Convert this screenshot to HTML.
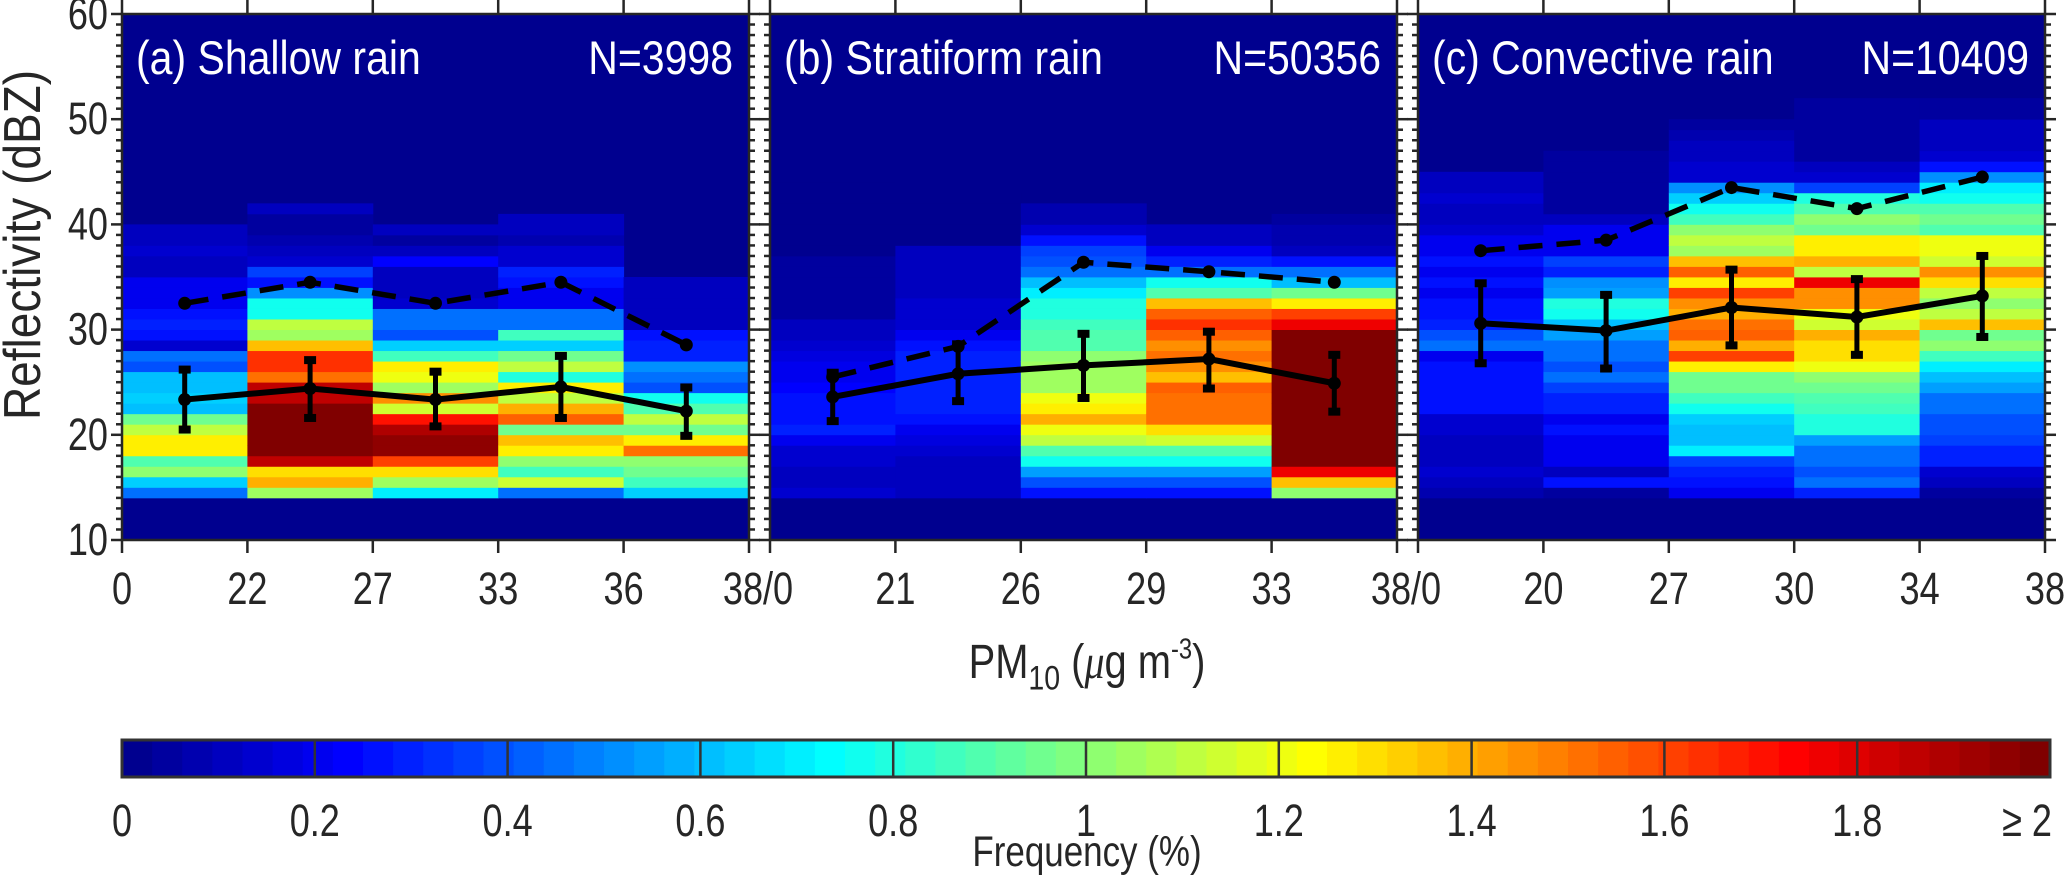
<!DOCTYPE html>
<html><head><meta charset="utf-8"><style>
html,body{margin:0;padding:0;background:#fff;}
svg{display:block;font-family:"Liberation Sans",Arial,sans-serif;}
</style></head><body>
<svg id="chart" width="2067" height="875" viewBox="0 0 2067 875" xmlns="http://www.w3.org/2000/svg">
<g id="cells"></g>
<g id="axes"></g>
<g id="series"></g>
<g id="labels"></g>
<text x="0" y="0" transform="translate(40,245) rotate(-90) scale(1,1.12)" text-anchor="middle" font-size="46" fill="#262626">Reflectivity (dBZ)</text>
<text x="0" y="0" transform="translate(1087,678) scale(0.95,1.15)" text-anchor="middle" font-size="42" fill="#262626">PM<tspan font-size="30" dy="10">10</tspan><tspan dy="-10"> (</tspan><tspan font-style="italic" font-family="Liberation Serif">μ</tspan>g m<tspan font-size="25" dy="-17">-3</tspan><tspan dy="17">)</tspan></text>
<text x="0" y="0" transform="translate(1087,866) scale(0.92,1.12)" text-anchor="middle" font-size="38" fill="#262626">Frequency (%)</text>
</svg>
<script>
// ---- data ----
const panelTitles = ["(a) Shallow rain", "(b) Stratiform rain", "(c) Convective rain"];
const panelCounts = ["N=3998", "N=50356", "N=10409"];
const xTickLabelsA = ["0", "22", "27", "33", "36"];
const xTickLabelsB = ["21", "26", "29", "33"];
const xTickLabelsC = ["20", "27", "30", "34", "38"];
const yTicks = [10, 20, 30, 40, 50, 60];
const cbTicks = ["0", "0.2", "0.4", "0.6", "0.8", "1", "1.2", "1.4", "1.6", "1.8", "≥ 2"];
const binStart = 14; // dBZ of first row in each column array
// frequency (%) per column, rows of 1 dBZ from 14 dBZ upward
const shallowFreq = [
 [0.45,0.65,1.0,0.9,1.25,1.25,1.1,0.95,0.6,0.65,0.6,0.6,0.4,0.45,0.15,0.25,0.3,0.25,0.2,0.2,0.2,0.12,0.12,0.15,0.1,0.1],
 [1.05,1.4,1.3,1.85,2,2,2,2,2,1.85,1.85,1.5,1.65,1.65,1.35,1.05,1.1,0.75,0.75,0.5,0.25,0.35,0.15,0.1,0.08,0.05,0.05,0.1],
 [0.7,1.05,1.3,1.6,1.95,1.95,1.9,1.7,1.15,1.45,1.05,1.2,1.25,0.85,0.65,0.4,0.45,0.45,0.15,0.1,0.1,0.1,0.22,0.1,0.05,0.1],
 [0.45,1.15,0.85,1.0,1.25,1.35,0.95,1.55,1.4,1.1,1.25,0.8,1.1,0.95,0.65,0.85,0.45,0.45,0.2,0.2,0.25,0.3,0.15,0.15,0.08,0.12,0.12],
 [0.65,0.85,0.95,1.0,1.5,1.25,0.95,1.1,0.9,0.75,0.4,0.45,0.5,0.3,0.3,0.25,0.1,0.1,0.12,0.12,0.12]
];
const stratFreq = [
 [0.15,0.1,0.12,0.15,0.15,0.2,0.3,0.28,0.25,0.25,0.22,0.2,0.2,0.18,0.15,0.12,0.1,0.05,0.05,0.05,0.05,0.05,0.05,0.03,0.03,0.03,0.03,0.03,0.03,0.03],
 [0.1,0.1,0.1,0.12,0.15,0.18,0.2,0.25,0.3,0.3,0.3,0.3,0.3,0.3,0.25,0.2,0.15,0.15,0.15,0.12,0.12,0.1,0.1,0.1,0.03,0.03,0.03,0.03,0.03],
 [0.25,0.4,0.55,0.75,0.9,1.1,1.2,1.4,1.25,1.2,1.05,1.05,1.05,1.0,0.9,0.9,0.85,0.8,0.8,0.7,0.6,0.45,0.4,0.35,0.25,0.15,0.08,0.08],
 [0.25,0.4,0.55,0.75,0.9,1.15,1.3,1.5,1.5,1.5,1.55,1.35,1.45,1.5,1.45,1.55,1.65,1.55,1.35,0.9,0.75,0.45,0.3,0.2,0.12,0.1],
 [1.0,1.35,1.75,2,2,2,2,2,2,2,2,2,2,2,2,2,1.75,1.6,1.25,0.95,0.6,0.45,0.25,0.1,0.08,0.08,0.05]
];
const convFreq = [
 [0.08,0.1,0.15,0.1,0.1,0.12,0.15,0.15,0.25,0.25,0.28,0.25,0.25,0.2,0.45,0.4,0.3,0.28,0.25,0.2,0.25,0.2,0.25,0.2,0.2,0.15,0.12,0.12,0.15,0.1,0.1],
 [0.05,0.25,0.1,0.2,0.2,0.2,0.25,0.2,0.3,0.3,0.35,0.45,0.4,0.45,0.45,0.55,0.6,0.75,0.8,0.55,0.5,0.3,0.35,0.2,0.2,0.2,0.1,0.05,0.05,0.05,0.05,0.05,0.05],
 [0.2,0.25,0.3,0.35,0.7,0.6,0.6,0.65,0.75,0.85,0.95,0.95,1.25,1.6,1.4,1.55,1.5,1.4,1.45,1.6,1.25,1.55,1.35,1.05,1.1,1.0,0.85,0.75,0.65,0.5,0.15,0.15,0.1,0.1,0.08,0.05],
 [0.3,0.45,0.4,0.45,0.45,0.55,0.8,0.8,0.85,0.9,0.95,1.0,1.2,1.3,1.3,1.4,1.15,1.2,1.45,1.45,1.75,1.1,1.4,1.25,1.25,0.95,1.0,0.9,0.8,0.35,0.15,0.1,0.05,0.05,0.05,0.05,0.05,0.05],
 [0.05,0.1,0.15,0.3,0.3,0.35,0.4,0.4,0.45,0.45,0.55,0.6,0.7,0.85,1.0,0.95,1.35,1.1,1.0,1.1,1.3,1.45,1.15,1.2,1.2,0.9,0.95,0.9,0.75,0.7,0.5,0.25,0.15,0.1,0.1,0.1,0.05,0.05]
];
const shallowMean = [23.35, 24.4, 23.35, 24.55, 22.25];
const shallowLo = [20.5, 21.6, 20.8, 21.6, 19.9];
const shallowHi = [26.2, 27.1, 26.0, 27.5, 24.5];
const shallowP90 = [32.5, 34.5, 32.5, 34.5, 28.55];
const stratMean = [23.6, 25.8, 26.6, 27.2, 24.9];
const stratLo = [21.3, 23.2, 23.5, 24.4, 22.2];
const stratHi = [25.9, 28.6, 29.6, 29.8, 27.6];
const stratP90 = [25.5, 28.4, 36.4, 35.5, 34.5];
const convMean = [30.6, 29.9, 32.1, 31.2, 33.2];
const convLo = [26.8, 26.3, 28.5, 27.6, 29.3];
const convHi = [34.4, 33.3, 35.7, 34.8, 37.0];
const convP90 = [37.5, 38.5, 43.5, 41.5, 44.5];

// ---- layout ----
const NS = "http://www.w3.org/2000/svg";
const panelX = [122, 770, 1418], panelW = 627, yTop = 14, yBottom = 540;
const yMin = 10, yMax = 60;
function yScale(d) { return yBottom - (d - yMin) * (yBottom - yTop) / (yMax - yMin); }
function xCol(p, c) { return panelX[p] + c * panelW / 5; }
function xCenter(p, c) { return panelX[p] + (c + 0.5) * panelW / 5; }
function jet(v) {
  let k = Math.floor(v / 2 * 64); if (k > 63) k = 63; if (k < 0) k = 0;
  const x = (k + 1) / 64;
  const cl = t => Math.max(0, Math.min(1, t));
  const r = cl(1.5 - Math.abs(4 * x - 3)), g = cl(1.5 - Math.abs(4 * x - 2)), b = cl(1.5 - Math.abs(4 * x - 1));
  return "rgb(" + Math.round(r * 255) + "," + Math.round(g * 255) + "," + Math.round(b * 255) + ")";
}
function mk(tag, attrs, parent) {
  const el = document.createElementNS(NS, tag);
  for (const k in attrs) el.setAttribute(k, attrs[k]);
  parent.appendChild(el); return el;
}
function txt(parent, x, y, s, size, anchor, fill, sx, sy) {
  const t = mk("text", {x: 0, y: 0, "font-size": size, fill: fill, "text-anchor": anchor,
    transform: "translate(" + x + "," + y + ") scale(" + sx + "," + sy + ")"}, parent);
  t.textContent = s;
  return t;
}
const gCells = document.getElementById("cells"), gAxes = document.getElementById("axes"),
      gSeries = document.getElementById("series"), gLabels = document.getElementById("labels");
const freqs = [shallowFreq, stratFreq, convFreq];
const means = [shallowMean, stratMean, convMean], los = [shallowLo, stratLo, convLo],
      his = [shallowHi, stratHi, convHi], p90s = [shallowP90, stratP90, convP90];
const AX = "#262626";

for (let p = 0; p < 3; p++) {
  const bg = mk("rect", {x: panelX[p], y: yTop, width: panelW, height: yBottom - yTop, fill: jet(0)}, gCells);
  
  
  freqs[p].forEach((col, c) => {
    col.forEach((v, r) => {
      const d = binStart + r;
      const y1 = yScale(d + 1), y0 = yScale(d);
      const cell = mk("rect", {x: xCol(p, c), y: y1, width: panelW / 5 + 0.5, height: y0 - y1 + 0.4, fill: jet(v)}, gCells);
      
      
    });
  });
  const box = mk("rect", {x: panelX[p], y: yTop, width: panelW, height: yBottom - yTop, fill: "none", stroke: AX, "stroke-width": 2.5}, gAxes);
  
  
  for (let d = yMin; d <= yMax; d++) {
    const y = yScale(d), len = (d % 10 === 0) ? 11 : 6;
    const tl = mk("line", {x1: panelX[p] - len, x2: panelX[p], y1: y, y2: y, stroke: AX, "stroke-width": 2.5}, gAxes);
    
    
    const tr = mk("line", {x1: panelX[p] + panelW, x2: panelX[p] + panelW + len, y1: y, y2: y, stroke: AX, "stroke-width": 2.5}, gAxes);
    
    
  }
  for (let c = 0; c <= 5; c++) {
    const x = xCol(p, c);
    const tb = mk("line", {x1: x, x2: x, y1: yBottom, y2: yBottom + 13, stroke: AX, "stroke-width": 2.5}, gAxes);
    
    
    const tt = mk("line", {x1: x, x2: x, y1: 0, y2: yTop, stroke: AX, "stroke-width": 2.5}, gAxes);
    
    
  }
  const dpts = p90s[p].map((v, c) => xCenter(p, c) + "," + yScale(v)).join(" ");
  const dl = mk("polyline", {points: dpts, fill: "none", stroke: "#000", "stroke-width": 5.5, "stroke-dasharray": "24,14"}, gSeries);
  
  
  p90s[p].forEach((v, c) => {
    const m = mk("circle", {cx: xCenter(p, c), cy: yScale(v), r: 6.5, fill: "#000"}, gSeries);
    
    
  });
  const mpts = means[p].map((v, c) => xCenter(p, c) + "," + yScale(v)).join(" ");
  const ml = mk("polyline", {points: mpts, fill: "none", stroke: "#000", "stroke-width": 6}, gSeries);
  
  
  means[p].forEach((v, c) => {
    const x = xCenter(p, c);
    const eb = mk("line", {x1: x, x2: x, y1: yScale(los[p][c]), y2: yScale(his[p][c]), stroke: "#000", "stroke-width": 5}, gSeries);
    
    
    [los[p][c], his[p][c]].forEach(e => {
      const cap = mk("rect", {x: x - 6, y: yScale(e) - 4, width: 12, height: 8, fill: "#000"}, gSeries);
      
      
    });
    const mm = mk("circle", {cx: x, cy: yScale(v), r: 6.5, fill: "#000"}, gSeries);
    
    
  });
  const t1 = txt(gLabels, panelX[p] + 14, 74, panelTitles[p], 41, "start", "#fff", 1.0, 1.15);
  
  
  const t2 = txt(gLabels, panelX[p] + panelW - 16, 74, panelCounts[p], 41, "end", "#fff", 1.0, 1.15);
  
  
}
yTicks.forEach(d => {
  const t = txt(gLabels, 108, yScale(d) + 15, String(d), 38, "end", AX, 0.95, 1.2);
  
  
});
function xLabel(x, s) {
  const t = txt(gLabels, x, 604, s, 38, "middle", AX, 0.95, 1.2);
  
  
}
xTickLabelsA.forEach((s, c) => xLabel(xCol(0, c), s));
xLabel(758, "38/0");
xTickLabelsB.forEach((s, c) => xLabel(xCol(1, c + 1), s));
xLabel(1406, "38/0");
xTickLabelsC.forEach((s, c) => xLabel(xCol(2, c + 1), s));
const cbX = 122, cbW = 1928, cbY = 740, cbH = 37;
for (let k = 0; k < 64; k++) {
  const r = mk("rect", {x: cbX + k * cbW / 64, y: cbY, width: cbW / 64 + 0.6, height: cbH, fill: jet((k + 0.5) * 2 / 64)}, gAxes);
  
  
}
const cbBox = mk("rect", {x: cbX, y: cbY, width: cbW, height: cbH, fill: "none", stroke: "#333", "stroke-width": 3}, gAxes);


cbTicks.forEach((s, i) => {
  const x = cbX + i * cbW / 10;
  if (i > 0 && i < 10) {
    const l = mk("line", {x1: x, x2: x, y1: cbY, y2: cbY + cbH, stroke: "#333", "stroke-width": 2.5}, gAxes);
    
    
  }
  const t = txt(gLabels, i === 10 ? x + 2 : x, 836, s, 38, i === 10 ? "end" : "middle", AX, 0.95, 1.2);
  
  
});
</script>
</body></html>
